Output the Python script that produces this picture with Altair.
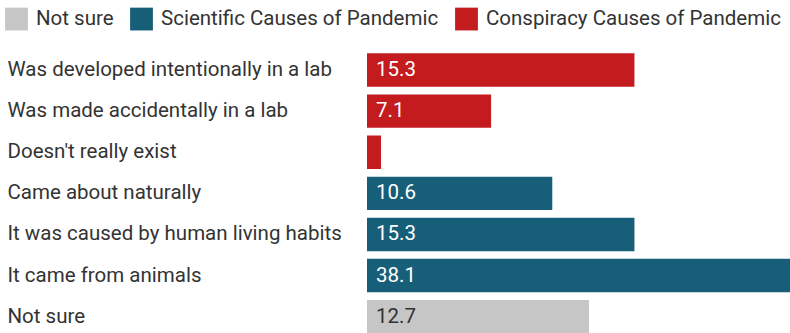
import altair as alt
import pandas as pd

# Survey answers: what people believe caused the pandemic (percent)
answers = [
    "Was developed intentionally in a lab",
    "Was made accidentally in a lab",
    "Doesn't really exist",
    "Came about naturally",
    "It was caused by human living habits",
    "It came from animals",
    "Not sure",
]
shares = [15.3, 7.1, 0.8, 10.6, 15.3, 38.1, 12.7]
groups = [
    "Conspiracy Causes of Pandemic",
    "Conspiracy Causes of Pandemic",
    "Conspiracy Causes of Pandemic",
    "Scientific Causes of Pandemic",
    "Scientific Causes of Pandemic",
    "Scientific Causes of Pandemic",
    "Not sure",
]

group_order = ["Not sure", "Scientific Causes of Pandemic", "Conspiracy Causes of Pandemic"]
group_colors = ["#c6c6c6", "#175f79", "#c41b1e"]

df = pd.DataFrame({"answer": answers, "share": shares, "group": groups})

FONT = "Roboto"
TEXT = "#333333"
SIZE = 20.5

y_enc = alt.Y(
    "answer:N",
    sort=answers,
    scale=alt.Scale(range=[0, 287.7], paddingInner=0.187, paddingOuter=0.0935),
    axis=alt.Axis(
        title=None,
        domain=False,
        ticks=False,
        labelAlign="left",
        labelPadding=360,
        labelFontSize=SIZE,
        labelFont=FONT,
        labelColor=TEXT,
        labelLimit=0,
    ),
)
x_enc = alt.X("share:Q", scale=alt.Scale(domain=[0, 24.2], nice=False, zero=True), axis=None)

bars = alt.Chart(df).mark_bar(clip=True).encode(
    y=y_enc,
    x=x_enc,
    color=alt.Color(
        "group:N",
        scale=alt.Scale(domain=group_order, range=group_colors),
        legend=alt.Legend(
            title=None,
            orient="none",
            direction="horizontal",
            legendX=-362,
            legendY=-42,
            symbolType="square",
            symbolSize=520,
            symbolStrokeWidth=0,
            symbolOpacity=1,
            labelFontSize=SIZE,
            labelFont=FONT,
            labelColor=TEXT,
            labelOffset=8,
            columnPadding=16,
            labelLimit=0,
        ),
    ),
)

labels = (
    alt.Chart(df)
    .transform_filter(alt.datum.share > 2)
    .mark_text(align="left", baseline="middle", dx=9, fontSize=SIZE, font=FONT)
    .encode(
        y=alt.Y("answer:N", sort=answers),
        x=alt.datum(0),
        text=alt.Text("share:Q", format=".1f"),
        color=alt.condition(alt.datum.group == "Not sure", alt.value(TEXT), alt.value("#ffffff")),
    )
)

chart = (
    alt.layer(bars, labels)
    .properties(
        width=423,
        height=283.5,
        autosize=alt.AutoSizeParams(type="none"),
        padding={"left": 367, "top": 49.5, "right": 0, "bottom": 0},
        background="white",
    )
    .configure_view(stroke=None)
)

chart.save("out.html", embed_options={"renderer": "svg", "actions": False})
